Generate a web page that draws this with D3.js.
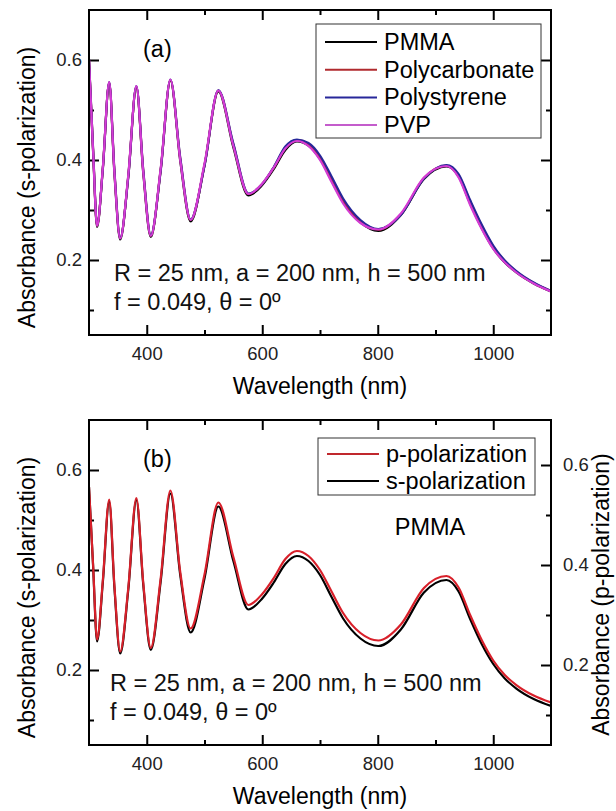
<!DOCTYPE html>
<html>
<head>
<meta charset="utf-8">
<script src="https://cdn.jsdelivr.net/npm/d3@7"></script>
<style>
  body { margin: 0; background: #fff; }
  svg { display: block; font-family: "Liberation Sans", Arial, sans-serif; }
</style>
</head>
<body>
<div id="chart"></div>
<script>
// wavelengths (nm) shared by every curve
var wavelength = [300, 307, 314, 324, 335, 344, 354, 368, 382, 394, 407, 424, 441, 458, 476, 500,
  524, 550, 576, 600, 620, 640, 660, 680, 700, 720, 740, 770, 801, 840, 880, 919, 940, 960, 980,
  1000, 1020, 1040, 1070, 1100];

// panel (a): s-polarization absorbance for each polymer
var pmma = [0.598, 0.418, 0.266, 0.385, 0.554, 0.373, 0.241, 0.368, 0.546, 0.373, 0.246, 0.380,
  0.559, 0.398, 0.277, 0.390, 0.537, 0.425, 0.329, 0.350, 0.382, 0.420, 0.437, 0.429, 0.402, 0.359,
  0.316, 0.275, 0.258, 0.290, 0.362, 0.387, 0.367, 0.313, 0.264, 0.223, 0.195, 0.175, 0.153, 0.137];
var polycarbonate = [0.601, 0.423, 0.269, 0.383, 0.555, 0.378, 0.244, 0.366, 0.547, 0.378, 0.249,
  0.378, 0.560, 0.403, 0.280, 0.389, 0.539, 0.431, 0.332, 0.352, 0.385, 0.425, 0.440, 0.432, 0.406,
  0.364, 0.320, 0.278, 0.261, 0.291, 0.364, 0.389, 0.370, 0.317, 0.268, 0.227, 0.198, 0.177, 0.154, 0.138];
var polystyrene = [0.602, 0.425, 0.270, 0.382, 0.556, 0.380, 0.245, 0.365, 0.548, 0.380, 0.250,
  0.377, 0.561, 0.405, 0.281, 0.388, 0.540, 0.433, 0.333, 0.352, 0.386, 0.427, 0.441, 0.434, 0.409,
  0.367, 0.323, 0.280, 0.262, 0.290, 0.363, 0.390, 0.372, 0.320, 0.271, 0.229, 0.199, 0.178, 0.155, 0.138];
var pvp = [0.600, 0.420, 0.268, 0.386, 0.556, 0.375, 0.243, 0.370, 0.548, 0.375, 0.248, 0.382,
  0.561, 0.400, 0.280, 0.393, 0.539, 0.428, 0.332, 0.353, 0.385, 0.423, 0.438, 0.428, 0.400, 0.356,
  0.313, 0.274, 0.261, 0.293, 0.365, 0.388, 0.365, 0.310, 0.262, 0.222, 0.195, 0.175, 0.153, 0.137];

// panel (b): PMMA, s-polarization (left axis) and p-polarization (right axis)
var sPol = [0.566, 0.410, 0.257, 0.376, 0.537, 0.365, 0.233, 0.360, 0.540, 0.370, 0.240, 0.376,
  0.553, 0.390, 0.275, 0.383, 0.527, 0.418, 0.321, 0.343, 0.375, 0.412, 0.428, 0.418, 0.390, 0.346,
  0.303, 0.263, 0.248, 0.281, 0.355, 0.380, 0.357, 0.302, 0.252, 0.212, 0.183, 0.163, 0.142, 0.128];
var pPol = [0.556, 0.402, 0.251, 0.370, 0.531, 0.359, 0.227, 0.354, 0.534, 0.364, 0.234, 0.372,
  0.549, 0.386, 0.273, 0.381, 0.525, 0.416, 0.320, 0.342, 0.374, 0.412, 0.428, 0.418, 0.390, 0.347,
  0.304, 0.264, 0.249, 0.281, 0.354, 0.378, 0.355, 0.300, 0.250, 0.209, 0.180, 0.160, 0.139, 0.125];

var xMajor = [400, 600, 800, 1000],
    xMinor = [500, 700, 900],
    yMajor = [0.2, 0.4, 0.6],
    yMinor = [0.1, 0.3, 0.5];

var seriesA = [
  { name: 'PMMA', values: pmma, color: '#000000', legend: '#000000' },
  { name: 'Polycarbonate', values: polycarbonate, color: '#d01f26', legend: '#b02a2e' },
  { name: 'Polystyrene', values: polystyrene, color: '#27279a', legend: '#27279a' },
  { name: 'PVP', values: pvp, color: '#d43cd4', legend: '#c45ccc' }
];

var W = 616, H = 811;
var left = 89, right = 551;
var font = '"Liberation Sans", Arial, sans-serif';

var svg = d3.select('#chart').append('svg')
  .attr('width', W).attr('height', H);

var x = d3.scaleLinear().domain([300, 1100]).range([left, right]);

function addTicks(g, axis, major, minor, transform, labels, pad) {
  var maj = g.append('g').attr('transform', transform)
    .call(axis.tickValues(major).tickSize(-10).tickPadding(pad)
      .tickFormat(labels ? d3.format('') : function() { return ''; }));
  var mino = g.append('g').attr('transform', transform)
    .call(axis.tickValues(minor).tickSize(-5).tickFormat(function() { return ''; }));
  [maj, mino].forEach(function(a) {
    a.select('.domain').remove();
    a.selectAll('line').attr('stroke', '#000').attr('stroke-width', 2);
    a.selectAll('text').attr('font-family', font).attr('font-size', 18.5).attr('fill', '#222');
  });
}

function panel(top, bottom, opts) {
  var g = svg.append('g');
  var y = d3.scaleLinear().domain([0.05, 0.7]).range([bottom, top]);
  var clipId = 'clip' + opts.tag;
  svg.append('clipPath').attr('id', clipId).append('rect')
    .attr('x', left).attr('y', top).attr('width', right - left).attr('height', bottom - top);

  // axes with inward ticks
  addTicks(g, d3.axisBottom(x), xMajor, xMinor, 'translate(0,' + bottom + ')', true, 12);
  addTicks(g, d3.axisTop(x), xMajor, xMinor, 'translate(0,' + top + ')', false, 0);
  addTicks(g, d3.axisLeft(y), yMajor, yMinor, 'translate(' + left + ',0)', true, 7);
  var yR = opts.rightScale ? opts.rightScale.range([bottom, top]) : y;
  addTicks(g, d3.axisRight(yR), yMajor, yMinor, 'translate(' + right + ',0)', !!opts.rightScale, 12);

  // curves
  var cg = g.append('g').attr('clip-path', 'url(#' + clipId + ')');
  opts.series.forEach(function(s) {
    var sc = s.scale ? s.scale : y;
    var line = d3.line()
      .x(function(d, i) { return x(wavelength[i]); })
      .y(function(d) { return sc(d); })
      .curve(d3.curveMonotoneX);
    cg.append('path').datum(s.values)
      .attr('fill', 'none').attr('stroke', s.color).attr('stroke-width', 2.2)
      .attr('d', line);
  });

  // frame
  g.append('rect').attr('x', left).attr('y', top)
    .attr('width', right - left).attr('height', bottom - top)
    .attr('fill', 'none').attr('stroke', '#000').attr('stroke-width', 2);

  // titles
  g.append('text').attr('x', (left + right) / 2).attr('y', bottom + 59)
    .attr('text-anchor', 'middle').attr('font-size', 23).attr('font-family', font)
    .text('Wavelength (nm)');
  g.append('text')
    .attr('transform', 'translate(35,' + ((top + bottom) / 2 + 15) + ') rotate(-90)')
    .attr('text-anchor', 'middle').attr('font-size', 23).attr('font-family', font)
    .text('Absorbance (s-polarization)');
  if (opts.rightTitle) {
    g.append('text')
      .attr('transform', 'translate(609,' + ((top + bottom) / 2 + 12) + ') rotate(-90)')
      .attr('text-anchor', 'middle').attr('font-size', 23).attr('font-family', font)
      .text(opts.rightTitle);
  }

  // panel letter and parameters
  g.append('text').attr('x', 143).attr('y', top + 47)
    .attr('font-size', 23.5).attr('font-family', font).text(opts.letter);
  var ann = g.append('text').attr('font-size', 23.5).attr('font-family', font).attr('fill', '#111');
  ann.append('tspan').attr('x', opts.annX).attr('y', bottom - 54)
    .text('R = 25 nm, a = 200 nm, h = 500 nm');
  ann.append('tspan').attr('x', opts.annX).attr('y', bottom - 25)
    .text('f = 0.049, \u03b8 = 0\u00ba');

  // legend
  var L = opts.legend;
  g.append('rect').attr('x', L.x).attr('y', L.y).attr('width', L.w).attr('height', L.h)
    .attr('fill', '#fff').attr('stroke', '#333').attr('stroke-width', 1);
  L.items.forEach(function(s, i) {
    var cy = L.y + L.first + i * L.step;
    g.append('line').attr('x1', L.x + 9).attr('x2', L.x + 61).attr('y1', cy).attr('y2', cy)
      .attr('stroke', s.legend).attr('stroke-width', 2);
    g.append('text').attr('x', L.x + 68).attr('y', cy + 8)
      .attr('font-size', 23.5).attr('font-family', font).text(s.name);
  });
  return g;
}

panel(10, 335, {
  tag: 'a', letter: '(a)', annX: 114,
  series: seriesA,
  legend: { x: 316, y: 24, w: 225, h: 114, first: 18, step: 27.7, items: seriesA }
});

var yRightB = d3.scaleLinear().domain([0.04, 0.69]);
var gb = panel(420, 745, {
  tag: 'b', letter: '(b)', annX: 110,
  rightScale: yRightB,
  rightTitle: 'Absorbance (p-polarization)',
  series: [
    { name: 's-polarization', values: sPol, color: '#000000' },
    { name: 'p-polarization', values: pPol, color: '#d8202a', scale: yRightB }
  ],
  legend: { x: 318, y: 438, w: 217, h: 57, first: 16, step: 27, items: [
    { name: 'p-polarization', legend: '#c0282d' },
    { name: 's-polarization', legend: '#000000' }
  ] }
});
gb.append('text').attr('x', 430).attr('y', 535).attr('text-anchor', 'middle')
  .attr('font-size', 23.5).attr('font-family', font).text('PMMA');
</script>
</body>
</html>
